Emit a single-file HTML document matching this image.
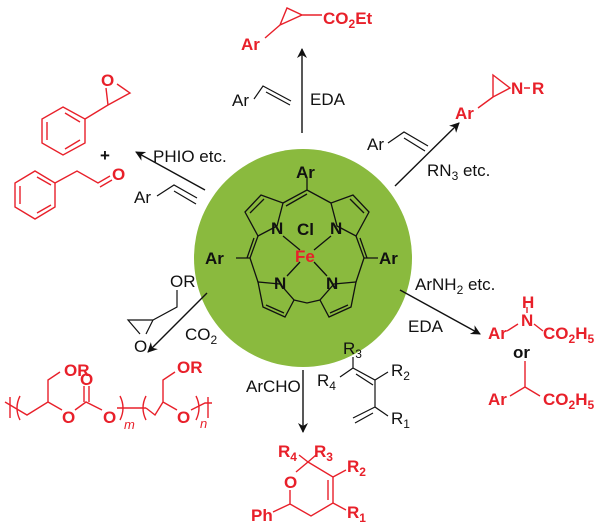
<!DOCTYPE html>
<html><head><meta charset="utf-8"><style>
html,body{margin:0;padding:0;background:#fff}
svg{display:block}
text{font-family:"Liberation Sans",Arial,sans-serif}
.k{fill:#111;font-size:17px}
.r{fill:#e8202a;font-size:17px;font-weight:bold}
</style></head><body>
<svg width="600" height="530" viewBox="0 0 600 530" xmlns="http://www.w3.org/2000/svg">
<defs><marker id="a" markerWidth="10" markerHeight="10" refX="9" refY="5" orient="auto" markerUnits="userSpaceOnUse"><path d="M0,0 L10,5 L0,10 L3,5z" fill="#111"/></marker></defs>
<circle cx="303" cy="258" r="109" fill="#8aba3e"/>
<!-- porphyrin -->
<g stroke="#111" stroke-width="1.3" fill="none">
<path d="M277,226 L283,203 L261,195 L245,212 L258,236 Z"/>
<path d="M264,199 L250,213"/>
<path d="M337,226 L331,203 L353,195 L369,212 L356,236 Z"/>
<path d="M350,199 L364,213"/>
<path d="M283,203 L307,190 L331,203 M286,206 L307,194"/>
<path d="M258,236 L250,258 L258,282 M254,238 L247,258"/>
<path d="M356,236 L364,258 L356,282 M360,238 L367,258"/>
<path d="M280,284 L258,282 L263,307 L285,317 L294,300 Z"/>
<path d="M266,305 L284,313"/>
<path d="M334,284 L356,282 L351,307 L329,317 L320,300 Z"/>
<path d="M348,305 L330,313"/>
<path d="M294,300 L307,303 L320,300"/>
<path d="M307,190 L307,178 M250,258 L236,258 M364,258 L378,258"/>
<path d="M283,236 L300,250 M331,236 L314,250 M300,262 L287,276 M314,262 L327,276"/>
</g>
<text class="k" x="296" y="178" font-weight="bold">Ar</text>
<text class="k" x="205" y="264" font-weight="bold">Ar</text>
<text class="k" x="379" y="264" font-weight="bold">Ar</text>
<text class="k" x="271" y="234" font-weight="bold" font-size="15">N</text>
<text class="k" x="330" y="234" font-weight="bold" font-size="15">N</text>
<text class="k" x="274" y="289" font-weight="bold" font-size="15">N</text>
<text class="k" x="326" y="289" font-weight="bold" font-size="15">N</text>
<text class="k" x="297" y="235" font-weight="bold" font-size="15">Cl</text>
<text x="295" y="262" font-size="17" font-weight="bold" fill="#e8202a">Fe</text>
<!-- arrows -->
<g stroke="#111" stroke-width="1.4" fill="none" marker-end="url(#a)">
<line x1="302" y1="133" x2="302" y2="49"/>
<line x1="395" y1="186" x2="459" y2="123"/>
<line x1="205" y1="190" x2="136" y2="152"/>
<line x1="207" y1="293" x2="148" y2="352"/>
<line x1="400" y1="290" x2="480" y2="334"/>
<line x1="303" y1="370" x2="303" y2="432"/>
</g>
<!-- top -->
<g stroke="#e8202a" stroke-width="1.4" fill="none">
<path d="M280,25 L287,8 L302,15 Z M280,25 L265,38 M302,15 L322,15"/>
<path d="M493,75 L510,88 L493,97 Z M493,97 L478,108 M524,88 L530,88"/>
</g>
<text class="r" x="241" y="50">Ar</text>
<text class="r" x="323" y="24">CO<tspan font-size="12" dy="4">2</tspan><tspan dy="-4">Et</tspan></text>
<text class="r" x="455" y="119">Ar</text>
<text class="r" x="511" y="94">N</text><text class="r" x="532" y="94">R</text>
<g stroke="#111" stroke-width="1.2" fill="none">
<path d="M254,99 L263,86 L291,101 M266,92 L290,105"/>
<path d="M388,143 L404,132 L428,146 M404,138 L425,151"/>
<path d="M157,196 L174,185 L197,198 M174,191 L196,204"/>
</g>
<text class="k" x="232" y="106">Ar</text>
<text class="k" x="310" y="105">EDA</text>
<text class="k" x="367" y="150">Ar</text>
<text class="k" x="427" y="176">RN<tspan font-size="12" dy="4">3</tspan><tspan dy="-4"> etc.</tspan></text>
<text class="k" x="153" y="162">PHIO etc.</text>
<text class="k" x="134" y="203">Ar</text>
<!-- left red products -->
<g stroke="#e8202a" stroke-width="1.4" fill="none">
<path d="M63,107 L85,119 L85,143 L63,155 L42,143 L42,119 Z M47,122 L47,140 M65,149 L80,140 M80,122 L65,113"/>
<path d="M85,119 L108,105 L130,93 L117,84 M108,105 L106,88"/>
<path d="M35,171 L55,183 L55,207 L35,219 L15,207 L15,183 Z M20,186 L20,204 M37,213 L51,205 M51,185 L37,177"/>
<path d="M55,183 L77,171 L98,183 L110,176 M100,187 L112,180"/>
</g>
<text class="r" x="101" y="86">O</text>
<text class="r" x="112" y="180">O</text>
<text x="100" y="161" font-size="17" font-weight="bold" style="fill:#111">+</text>
<!-- glycidyl -->
<g stroke="#111" stroke-width="1.2" fill="none">
<path d="M177,290 L177,307 L153,320 L128,320 L140,334 M153,320 L146,334"/>
</g>
<text class="k" x="170" y="287">OR</text>
<text class="k" x="134" y="352">O</text>
<text class="k" x="185" y="340">CO<tspan font-size="12" dy="4">2</tspan></text>
<!-- polymer -->
<g stroke="#e8202a" stroke-width="1.4" fill="none">
<path d="M5,402 L27,415 L48,402 L48,380 L60,372 M48,402 L62,410"/>
<path d="M75,410 L86,402 L102,410 M84,402 L84,386 M89,402 L89,386"/>
<path d="M10,397 L10,418 M20,396 Q14,408 20,420"/>
<path d="M117,408 L146,408 M120,396 Q126,408 120,420 M146,396 Q140,408 146,420"/>
<path d="M146,408 L155,415 L163,402 L163,380 L175,372 M163,402 L177,410"/>
<path d="M191,410 L205,403 L212,403 M196,396 Q202,408 196,420 M208,397 L208,418"/>
</g>
<text class="r" x="64" y="376">OR</text>
<text class="r" x="80" y="385">O</text>
<text class="r" x="62" y="423">O</text>
<text class="r" x="103" y="423">O</text>
<text class="r" x="177" y="373">OR</text>
<text class="r" x="177" y="423">O</text>
<text x="124" y="429" font-size="13" font-style="italic" fill="#e8202a">m</text>
<text x="200" y="428" font-size="13" font-style="italic" fill="#e8202a">n</text>
<!-- bottom -->
<text class="k" x="246" y="392">ArCHO</text>
<g stroke="#111" stroke-width="1.2" fill="none">
<path d="M353,357 L353,368 L375,380 L388,372 M353,368 L340,377 M356,374 L373,385 M375,380 L375,407 L388,416 M375,407 L353,418 M373,413 L355,423"/>
</g>
<text class="k" x="343" y="354">R<tspan font-size="12" dy="4">3</tspan></text>
<text class="k" x="317" y="386">R<tspan font-size="12" dy="4">4</tspan></text>
<text class="k" x="391" y="376">R<tspan font-size="12" dy="4">2</tspan></text>
<text class="k" x="391" y="424">R<tspan font-size="12" dy="4">1</tspan></text>
<g stroke="#e8202a" stroke-width="1.4" fill="none">
<path d="M296,472 L308,462 L333,477 L333,503 L311,516 L290,504 L290,490 M328,480 L328,500"/>
<path d="M308,462 L299,455 M308,462 L316,455 M333,477 L346,470 M333,503 L346,510 M290,504 L273,512"/>
</g>
<text class="r" x="278" y="457">R<tspan font-size="12" dy="4">4</tspan></text>
<text class="r" x="314" y="457">R<tspan font-size="12" dy="4">3</tspan></text>
<text class="r" x="347" y="472">R<tspan font-size="12" dy="4">2</tspan></text>
<text class="r" x="284" y="488">O</text>
<text class="r" x="251" y="521">Ph</text>
<text class="r" x="347" y="518">R<tspan font-size="12" dy="4">1</tspan></text>
<!-- right -->
<text class="k" x="415" y="290">ArNH<tspan font-size="12" dy="4">2</tspan><tspan dy="-4"> etc.</tspan></text>
<text class="k" x="408" y="332">EDA</text>
<g stroke="#e8202a" stroke-width="1.4" fill="none">
<path d="M507,331 L518,324 M534,324 L543,331 M527,307 L527,313"/>
<path d="M525,361 L525,387 L510,396 M525,387 L540,396"/>
</g>
<text class="r" x="488" y="339">Ar</text>
<text class="r" x="521" y="326">N</text>
<text class="r" x="522" y="308" font-size="15">H</text>
<text class="r" x="543" y="339">CO<tspan font-size="12" dy="4">2</tspan><tspan dy="-4">H</tspan><tspan font-size="12" dy="4">5</tspan></text>
<text x="513" y="358" font-size="17" font-weight="bold" fill="#111">or</text>
<text class="r" x="488" y="405">Ar</text>
<text class="r" x="543" y="405">CO<tspan font-size="12" dy="4">2</tspan><tspan dy="-4">H</tspan><tspan font-size="12" dy="4">5</tspan></text>
</svg>
</body></html>
